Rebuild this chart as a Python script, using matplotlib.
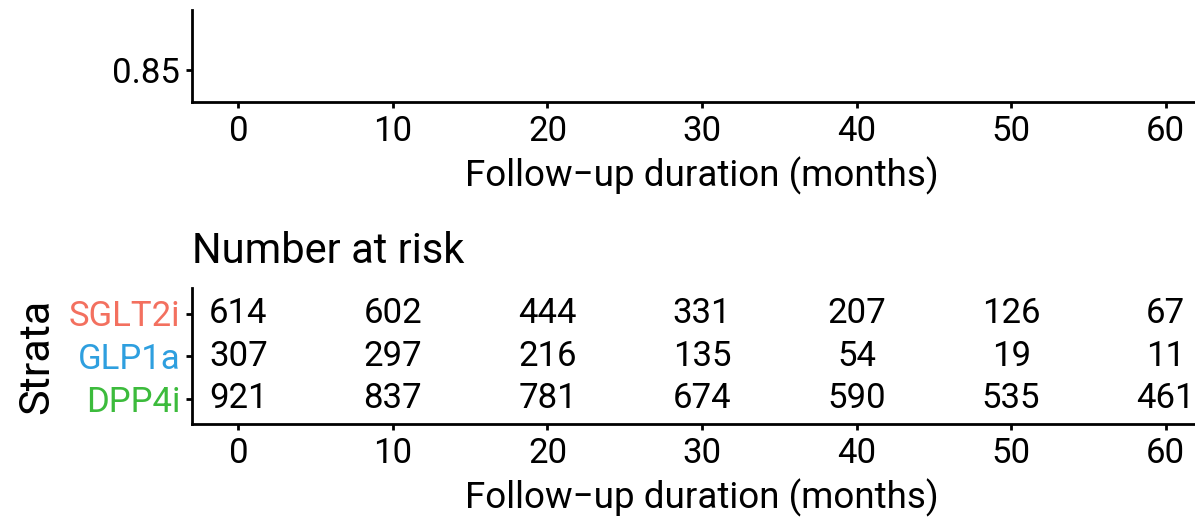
import matplotlib.pyplot as plt

plt.rcParams['font.family'] = ['Roboto', 'DejaVu Sans']

# risk table data
times = [0, 10, 20, 30, 40, 50, 60]
strata = ['SGLT2i', 'GLP1a', 'DPP4i']
strata_colors = ['#F3705F', '#2E9FDF', '#3CBB3C']
at_risk = {
    'SGLT2i': [614, 602, 444, 331, 207, 126, 67],
    'GLP1a': [307, 297, 216, 135, 54, 19, 11],
    'DPP4i': [921, 837, 781, 674, 590, 535, 461],
}
surv_ticks = [0.85]
xlabel = 'Follow\u2212up duration (months)'

W, H = 1195, 519
fig = plt.figure(figsize=(W / 100, H / 100), dpi=100)

def px_axes(left, top, right, bottom):
    return fig.add_axes([left / W, 1 - bottom / H, (right - left) / W, (bottom - top) / H])

FS = 25      # tick labels and counts
FS_LAB = 26.5  # axis titles
LW = 2.0

def style(ax):
    for s in ['top', 'right']:
        ax.spines[s].set_visible(False)
    for s in ['left', 'bottom']:
        ax.spines[s].set_linewidth(LW)
    ax.tick_params(axis='both', length=4.5, width=LW, labelsize=FS, colors='black')
    ax.tick_params(axis='x', pad=5)
    ax.tick_params(axis='y', pad=4)
    ax.set_xlim(-3, 63)
    ax.set_xticks(times)
    ax.set_xlabel(xlabel, fontsize=FS_LAB, labelpad=6)

# survival curve panel (lower part only)
ax1 = px_axes(192, 10, 1212, 102)
style(ax1)
ax1.set_ylim(0.842, 0.865)
ax1.set_yticks(surv_ticks)
ax1.set_yticklabels(['%.2f' % v for v in surv_ticks])

# number at risk table
ax2 = px_axes(192, 288, 1212, 424)
style(ax2)
ax2.set_ylim(0.4, 3.6)
ypos = [3, 2, 1]
ax2.set_yticks(ypos)
ax2.set_yticklabels(strata)
for lab, c in zip(ax2.get_yticklabels(), strata_colors):
    lab.set_color(c)
for y, name in zip(ypos, strata):
    for t, n in zip(times, at_risk[name]):
        ax2.text(t, y, str(n), ha='center', va='center', fontsize=FS)
ax2.set_ylabel('Strata', fontsize=31, labelpad=8)
ax2.set_title('Number at risk', loc='left', fontsize=30, pad=18)

fig.savefig('out.png', dpi=100)
